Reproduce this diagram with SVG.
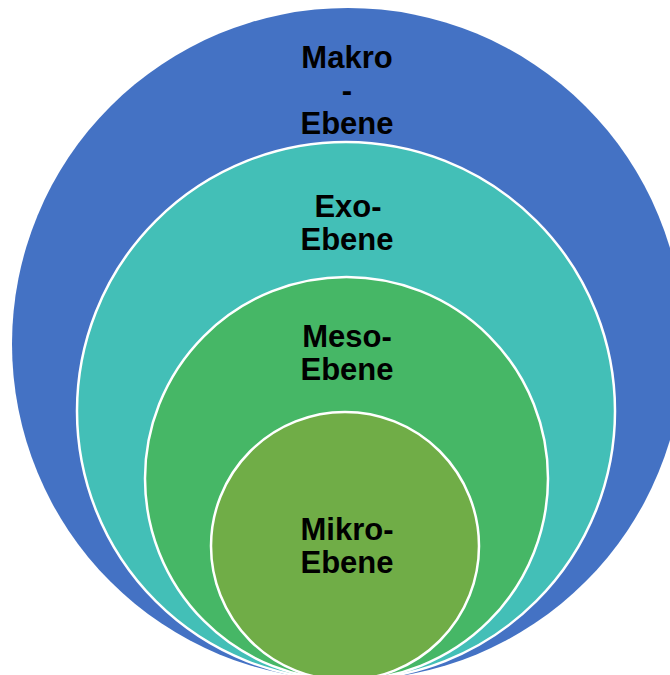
<svg xmlns="http://www.w3.org/2000/svg" width="670" height="675" viewBox="0 0 670 675">
<style>
.c{stroke:#FFFFFF;stroke-width:2.5}
.t{font-family:"Liberation Sans",Arial,sans-serif;font-weight:bold;font-size:31px;fill:#000000;text-anchor:middle}
</style>
<rect width="670" height="675" fill="#FFFFFF"/>
<g id="makro">
<circle cx="348" cy="344" r="336" fill="#4472C4"/>
<text class="t" x="347" y="68">Makro</text>
<text class="t" x="347" y="101">-</text>
<text class="t" x="347" y="134">Ebene</text>
</g>
<g id="exo">
<circle class="c" cx="346" cy="411" r="269" fill="#43BFB7"/>
<text class="t" x="348" y="217">Exo-</text>
<text class="t" x="347" y="250">Ebene</text>
</g>
<g id="meso">
<circle class="c" cx="346.5" cy="478.5" r="201.5" fill="#46B766"/>
<text class="t" x="347" y="347">Meso-</text>
<text class="t" x="347" y="380">Ebene</text>
</g>
<g id="mikro">
<circle class="c" cx="345" cy="546" r="134" fill="#70AD47"/>
<text class="t" x="347" y="540">Mikro-</text>
<text class="t" x="347" y="573">Ebene</text>
</g>
<g id="connectors"/>
</svg>
